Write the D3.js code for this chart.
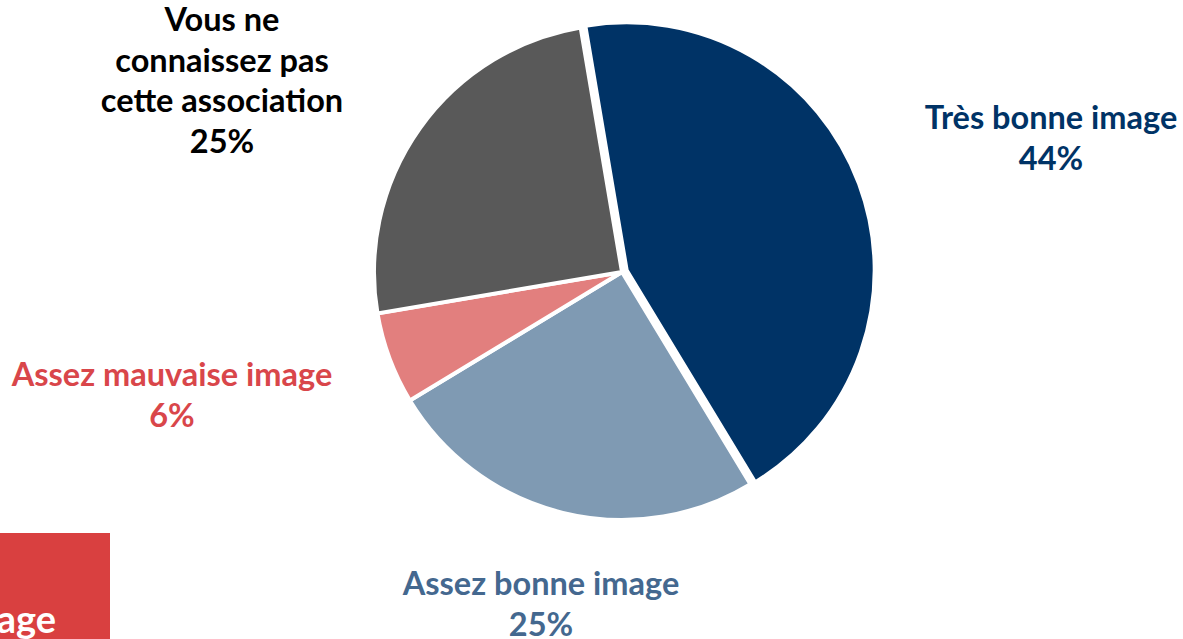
<!DOCTYPE html>
<html>
<head>
<meta charset="utf-8">
<script src="https://cdn.jsdelivr.net/npm/d3@7"></script>
<style>
  body { margin: 0; background: #fff; }
  svg { display: block; }
  .lbl { font-family: Lato, "Open Sans", sans-serif; font-weight: 700; font-size: 32.5px; }
</style>
</head>
<body>
<div class="container"></div>
<script>
// categories + values
var categories = ["Très bonne image", "Assez bonne image", "Assez mauvaise image", "Vous ne connaissez pas cette association"];
var values = [44, 25, 6, 25];
var colors = ["#003366", "#7f9ab3", "#e27f7e", "#595959"];
var labelColors = ["#003366", "#44688f", "#d9464a", "#000000"];
var labelLines = [
  ["Très bonne image", "44%"],
  ["Assez bonne image", "25%"],
  ["Assez mauvaise image", "6%"],
  ["Vous ne", "connaissez pas", "cette association", "25%"]
];
var exploded = [true, false, false, false];

var width = 1183, height = 639;
var cx = 622, cy = 272, radius = 248;

var svg = d3.select(".container")
  .append("svg")
    .attr("width", width)
    .attr("height", height);

// cropped red box in the bottom-left corner
svg.append("rect")
  .attr("x", 0)
  .attr("y", 533)
  .attr("width", 110)
  .attr("height", 106)
  .attr("fill", "#d94040");
svg.append("text")
  .attr("class", "lbl")
  .attr("x", 56)
  .attr("y", 633)
  .attr("text-anchor", "end")
  .attr("fill", "#fff")
  .style("font-size", "38px")
  .text("image");

var startAngle = -9.6 * Math.PI / 180;
var pie = d3.pie()
  .sort(null)
  .startAngle(startAngle)
  .endAngle(startAngle + 2 * Math.PI)
  .value(d => d);

var arc = d3.arc().innerRadius(0).outerRadius(radius);

var g = svg.append("g")
  .attr("transform", "translate(" + cx + "," + cy + ")");

g.selectAll("path")
  .data(pie(values))
  .enter()
  .append("path")
    .attr("d", arc)
    .attr("fill", (d, i) => colors[i])
    .attr("stroke", "#fff")
    .attr("stroke-width", 4)
    .attr("stroke-linejoin", "miter")
    .attr("transform", function(d, i) {
      if (!exploded[i]) return null;
      var mid = (d.startAngle + d.endAngle) / 2;
      var off = 5;
      return "translate(" + (Math.sin(mid) * off) + "," + (-Math.cos(mid) * off) + ")";
    });

// label anchors (centre x, first baseline)
var labelPos = [[1051, 129], [541, 595], [172, 386], [222, 31]];
var lineH = 40.5;

labelLines.forEach(function(lines, i) {
  var t = svg.append("text")
    .attr("class", "lbl")
    .attr("text-anchor", "middle")
    .attr("fill", labelColors[i]);
  lines.forEach(function(s, j) {
    t.append("tspan")
      .attr("x", labelPos[i][0])
      .attr("y", labelPos[i][1] + j * lineH)
      .text(s);
  });
});
</script>
</body>
</html>
